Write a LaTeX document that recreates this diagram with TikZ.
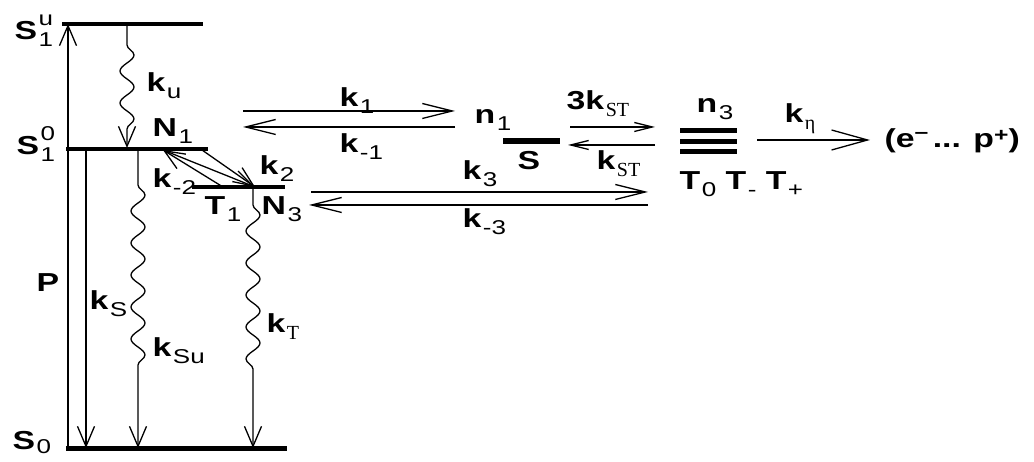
\documentclass[tikz,border=0pt]{standalone}
\usepackage{fontspec}
\setmainfont{Liberation Sans}[FakeStretch=1.3]
\newfontfamily\subserif{Liberation Serif}
\usetikzlibrary{arrows.meta, decorations.pathmorphing}

\newcommand\subfnt{\fontsize{20}{20}\selectfont\mdseries}
\newcommand\lo[1]{\kern1.5pt\raisebox{-7pt}{\subfnt #1}}
\newcommand\hi[1]{\kern1.5pt\raisebox{14pt}{\subfnt #1}}
\newcommand\hib[2]{\raisebox{#1}{\fontsize{19}{19}\selectfont #2}}

\begin{document}
\begin{tikzpicture}[x=1pt, y=-1pt,
    font=\fontsize{26}{30}\selectfont\bfseries,
    line width=1.3pt,
    level/.style={line width=4pt},
    lbl/.style={anchor=base west, inner sep=0pt},
    vbarb/.style={-{Straight Barb[length=20pt, width=17pt]}},
    longbarb/.style={-{Straight Barb[length=30pt, width=15pt]}},
    shortbarb/.style={-{Straight Barb[length=18pt, width=9pt]}},
    etabarb/.style={-{Straight Barb[length=36pt, width=20pt]}},
    wavy/.style={decoration={snake, amplitude=7pt, segment length=32pt}}
]
\useasboundingbox (0,0) rectangle (1034,462);

% 1. Punkte der Niveaus
\coordinate (s1u w) at (62,24);   \coordinate (s1u e) at (203,24);
\coordinate (s10 w) at (66,149);  \coordinate (s10 e) at (208,149);
\coordinate (t1 w) at (192,187);  \coordinate (t1 e) at (285,187);
\coordinate (s0 w) at (66,448);   \coordinate (s0 e) at (287,448);
\coordinate (s w) at (503,141);   \coordinate (s e) at (560,141);

% 2. Niveaus zeichnen
\draw[level] (s1u w) -- (s1u e);
\draw[level] (s10 w) -- (s10 e);
\draw[level] (t1 w) -- (t1 e);
\draw[line width=5pt] (s0 w) -- (s0 e);
\draw[line width=6pt] (s w) -- (s e);
\foreach \y in {131,142,152}
    \draw[line width=5pt] (680,\y) -- (737,\y);

% 3. Beschriftungen
\node[lbl] (S1u) at (14,40) {S\rlap{\hi{u}}\lo{1}};
\node[lbl] (S10) at (16,155) {S\rlap{\hi{0}}\lo{1}};
\node[lbl] (S0) at (12,449) {S\kern1.5pt\raisebox{-5pt}{\subfnt 0}};
\node[lbl] (ku) at (146,92) {k\lo{u}};
\node[lbl] (N1) at (152,137) {N\lo{1}};
\node[lbl] (k2) at (259,175) {k\lo{2}};
\node[lbl] (km2) at (152,188) {k\lo{-2}};
\node[lbl] (T1) at (204,215) {T\lo{1}};
\node[lbl] (N3) at (261,215) {N\lo{3}};
\node[lbl] (P) at (36,292) {P};
\node[lbl] (kS) at (89,310) {k\lo{S}};
\node[lbl] (kSu) at (152,357) {k\lo{Su}};
\node[lbl] (kT) at (266,333) {k\lo{\subserif T}};
\node[lbl] (k1) at (339,107) {k\lo{1}};
\node[lbl] (km1) at (339,153) {k\lo{-1}};
\node[lbl] (n1) at (474,124) {n\lo{1}};
\node[lbl] (S) at (517,170) {S};
\node[lbl] (k3ST) at (566,110) {3k\lo{\subserif ST}};
\node[lbl] (kST) at (596,170) {k\lo{\subserif ST}};
\node[lbl] (k3) at (462,180) {k\lo{3}};
\node[lbl] (km3) at (462,228) {k\lo{-3}};
\node[lbl] (n3) at (696,113) {n\lo{3}};
\node[lbl] (Ttrip) at (679,190) {T\lo{0} T\lo{-} T\lo{+}};
\node[lbl] (keta) at (784,123) {k\lo{\subserif η}};
\node[lbl] (ep) at (884,148) {(e\hib{9pt}{–}\,... p\hib{6pt}{+})};

% 4. Senkrechte Uebergaenge
\draw[vbarb] (68,448) -- (68,24);
\draw[vbarb] (86,149) -- (86,448);
\draw[vbarb] (127,24) -- (127,45) decorate[wavy]{-- (127,130)} -- (127,148);
\draw[vbarb] (138,149) -- (138,185) decorate[wavy]{-- (138,378)} -- (138,448);
\draw[vbarb] (253,187) -- (253,205) decorate[wavy]{-- (253,383)} -- (253,448);

% 5. N1 <-> N3
\coordinate (n1 pt) at (163,150);
\coordinate (n3 pt) at (255,187);
\draw[vbarb] (n1 pt) -- (n3 pt);
\draw[vbarb] (202,150) -- (n3 pt);
\draw[vbarb] (223,187) -- (n1 pt);

% 6. Waagerechte Pfeile
\draw[longbarb] (243,111) -- (455,111);
\draw[longbarb] (455,127) -- (243,127);
\draw[longbarb] (311,192) -- (648,192);
\draw[longbarb] (648,205) -- (309,205);
\draw[shortbarb] (570,127) -- (655,127);
\draw[shortbarb] (655,145) -- (568,145);
\draw[etabarb] (757,140) -- (870,140);

\end{tikzpicture}
\end{document}
